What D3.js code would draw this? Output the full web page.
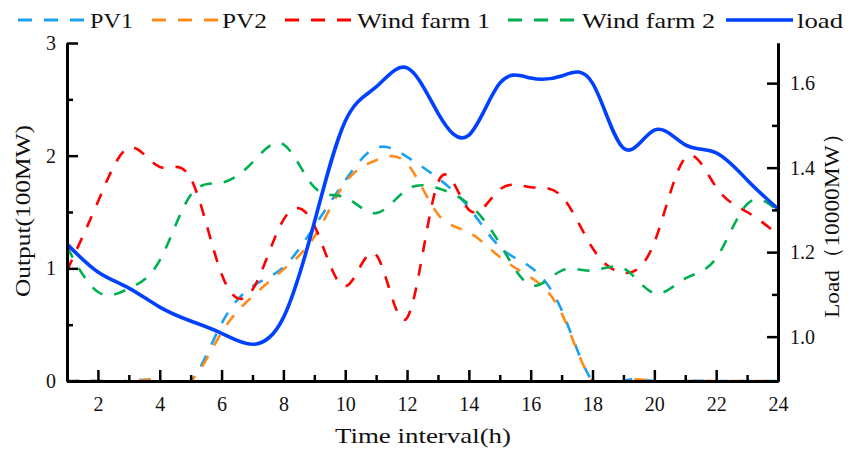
<!DOCTYPE html>
<html>
<head>
<meta charset="utf-8">
<script src="https://cdn.jsdelivr.net/npm/d3@7"></script>
<style>
body{margin:0;background:#fff;}
text{font-family:"Liberation Serif","Times New Roman",serif;fill:#111;}
</style>
</head>
<body>
<div class="canvas"></div>
<script>
// hourly values
const hours=d3.range(1,25);
const pv1=[0,0,0,0,0,0.51,0.84,1.01,1.37,1.78,2.07,1.99,1.80,1.54,1.19,1.01,0.63,0,0,0,0,0,0,0];
const pv2=[0,0,0,0,0,0.43,0.75,0.99,1.28,1.76,1.96,1.93,1.48,1.32,1.10,0.92,0.60,0,0,0,0,0,0,0];
const wind1=[0.98,1.59,2.07,1.90,1.80,0.95,0.81,1.43,1.38,0.84,1.12,0.56,1.76,1.52,1.70,1.72,1.64,1.18,0.96,1.23,1.98,1.72,1.50,1.30];
const wind2=[1.19,0.79,0.82,1.07,1.65,1.76,1.94,2.10,1.72,1.63,1.49,1.70,1.71,1.57,1.22,0.85,0.98,0.98,1.00,0.78,0.91,1.09,1.57,1.51];
const load=[1.219,1.153,1.115,1.070,1.037,1.008,0.982,1.045,1.270,1.510,1.591,1.636,1.529,1.477,1.600,1.612,1.617,1.600,1.446,1.489,1.454,1.435,1.371,1.302];

const xTicks=d3.range(2,25,2);
const yTicks=[0,1,2,3];
const y2Ticks=[1.0,1.2,1.4,1.6];

const dims={width:858,height:452};
const plot={left:67,right:778,top:43,bottom:381};

const svg=d3.select('.canvas')
.append('svg')
.attr('width',dims.width)
.attr('height',dims.height);

const x=d3.scaleLinear().domain([1,24]).range([plot.left,plot.right]);
const y=d3.scaleLinear().domain([0,3]).range([plot.bottom,plot.top]);
const y2=d3.scaleLinear().domain([0.895,1.695]).range([plot.bottom,plot.top]);

svg.append('clipPath').attr('id','clip')
.append('rect')
.attr('x',plot.left).attr('y',plot.top-5)
.attr('width',plot.right-plot.left).attr('height',plot.bottom-plot.top+5);

const series=[
  {name:'PV1',values:pv1,color:'#1ba1f2',dash:'12,12',scale:y},
  {name:'PV2',values:pv2,color:'#ff8c1a',dash:'12,12',scale:y},
  {name:'Wind farm 1',values:wind1,color:'#ff0000',dash:'12,12',scale:y},
  {name:'Wind farm 2',values:wind2,color:'#00b050',dash:'12,12',scale:y},
  {name:'load',values:load,color:'#0041ff',dash:null,scale:y2}
];

const lines=svg.append('g').attr('clip-path','url(#clip)');
series.forEach(s=>{
  const line=d3.line()
  .x((d,i)=>x(hours[i]))
  .y(d=>s.scale(d))
  .curve(d3.curveNatural);
  lines.append('path')
  .datum(s.values)
  .attr('d',line)
  .attr('fill','none')
  .attr('stroke',s.color)
  .attr('stroke-width',s.dash?2.6:3.6)
  .attr('stroke-dasharray',s.dash);
});

// axes - ticks point inward
const styleAxis=g=>{
  g.select('.domain').attr('stroke','#000').attr('stroke-width',3);
  g.selectAll('.tick line').attr('stroke','#000').attr('stroke-width',2.5);
  g.selectAll('.tick text').style('font-size','20px').attr('fill','#111');
};

svg.append('g')
.attr('transform',`translate(0,${plot.bottom})`)
.call(d3.axisBottom(x).tickValues(d3.range(3,25,2)).tickSizeInner(-6).tickSizeOuter(0).tickFormat(''))
.call(styleAxis);
svg.append('g')
.attr('transform',`translate(0,${plot.bottom})`)
.call(d3.axisBottom(x).tickValues(xTicks).tickSizeInner(-11).tickSizeOuter(0).tickPadding(16))
.call(styleAxis);

svg.append('g')
.attr('transform',`translate(${plot.left},0)`)
.call(d3.axisLeft(y).tickValues([0.5,1.5,2.5]).tickSizeInner(-6).tickSizeOuter(0).tickFormat(''))
.call(styleAxis);
svg.append('g')
.attr('transform',`translate(${plot.left},0)`)
.call(d3.axisLeft(y).tickValues(yTicks).tickSizeInner(-11).tickSizeOuter(0).tickPadding(11).tickFormat(d3.format('d')))
.call(styleAxis);

svg.append('g')
.attr('transform',`translate(${plot.right},0)`)
.call(d3.axisRight(y2).tickValues([1.1,1.3,1.5]).tickSizeInner(-6).tickSizeOuter(0).tickFormat(''))
.call(styleAxis);
svg.append('g')
.attr('transform',`translate(${plot.right},0)`)
.call(d3.axisRight(y2).tickValues(y2Ticks).tickSizeInner(-11).tickSizeOuter(0).tickPadding(12).tickFormat(d3.format('.1f')))
.call(styleAxis);

// axis titles
svg.append('text')
.attr('x',423).attr('y',443)
.attr('text-anchor','middle')
.style('font-size','22px')
.attr('textLength',176).attr('lengthAdjust','spacingAndGlyphs')
.text('Time interval(h)');

svg.append('text')
.attr('transform','translate(30,211) rotate(-90)')
.attr('text-anchor','middle')
.style('font-size','22px')
.attr('textLength',172).attr('lengthAdjust','spacingAndGlyphs')
.text('Output(100MW)');

svg.append('text')
.attr('transform','translate(839,220) rotate(-90)')
.attr('text-anchor','middle')
.style('font-size','22px')
.attr('textLength',196).attr('lengthAdjust','spacingAndGlyphs')
.text('Load（10000MW）');

// legend
const legendPos=[
  {x0:18,x1:87,tx:90,tw:43},
  {x0:152,x1:218,tx:222,tw:45},
  {x0:285,x1:352,tx:357,tw:133},
  {x0:508,x1:575,tx:582,tw:133},
  {x0:726,x1:793,tx:797,tw:46}
];
const legendGroup=svg.append('g');
series.forEach((s,i)=>{
  const p=legendPos[i];
  legendGroup.append('line')
  .attr('x1',p.x0).attr('x2',p.x1)
  .attr('y1',20).attr('y2',20)
  .attr('stroke',s.color)
  .attr('stroke-width',s.dash?3:3.6)
  .attr('stroke-dasharray',s.dash?'14,12':null);
  legendGroup.append('text')
  .attr('x',p.tx).attr('y',28)
  .style('font-size','22px')
  .attr('textLength',p.tw).attr('lengthAdjust','spacingAndGlyphs')
  .text(s.name);
});
</script>
</body>
</html>
